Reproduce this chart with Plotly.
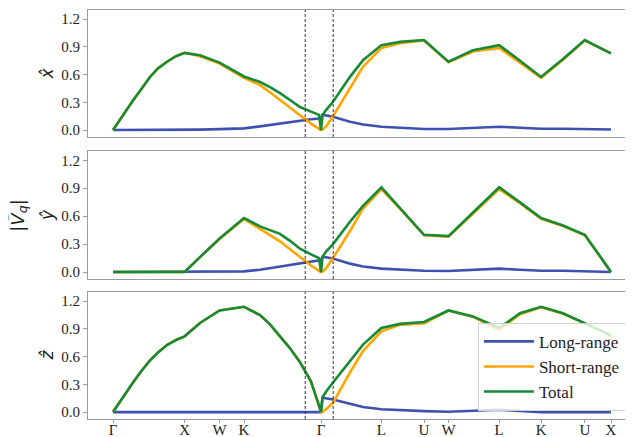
import plotly.graph_objects as go

# k-path coordinate (arbitrary units) and high-symmetry points
kpath = [0.0, 0.10, 0.20, 0.28, 0.37, 0.45, 0.54, 0.63, 0.716, 0.87, 1.066, 1.31, 1.47, 1.57,
         1.67, 1.77, 1.87, 1.98, 2.06, 2.08,
         2.095, 2.13, 2.20, 2.37, 2.50, 2.684, 2.87, 3.11, 3.355, 3.60, 3.862, 4.07, 4.281,
         4.50, 4.718, 4.85, 4.98]
tick_pos = [0.0, 0.716, 1.066, 1.31, 2.08, 2.684, 3.11, 3.355, 3.862, 4.281, 4.718, 4.98]
tick_labels = ["Γ", "X", "W", "K", "Γ", "L", "U", "W", "L", "K", "U", "X"]
dashed_x = [1.922, 2.202]

# x-hat panel
x_long = [0, 0, 0, 0, 0, 0, 0, 0.001, 0.002, 0.005, 0.01, 0.018, 0.04, 0.055,
          0.07, 0.088, 0.105, 0.118, 0.125, 0.128,
          0.165, 0.16, 0.145, 0.09, 0.06, 0.036, 0.025, 0.012, 0.011, 0.025, 0.036, 0.025, 0.014,
          0.015, 0.012, 0.01, 0.006]
x_short = [0, 0.165, 0.32, 0.44, 0.575, 0.665, 0.74, 0.80, 0.836, 0.80, 0.72, 0.565, 0.486, 0.41,
           0.33, 0.245, 0.16, 0.07, 0.012, 0.0,
           0.005, 0.04, 0.15, 0.46, 0.684, 0.89, 0.94, 0.97, 0.735, 0.85, 0.89, 0.73, 0.565,
           0.76, 0.97, 0.90, 0.83]
x_total = [0, 0.165, 0.32, 0.44, 0.575, 0.67, 0.74, 0.80, 0.836, 0.81, 0.73, 0.58, 0.52, 0.465,
           0.40, 0.325, 0.25, 0.20, 0.165, 0.0,
           0.16, 0.216, 0.306, 0.576, 0.757, 0.92, 0.955, 0.975, 0.74, 0.865, 0.92, 0.75, 0.575,
           0.77, 0.975, 0.90, 0.83]

# y-hat panel
y_long = [0, 0, 0, 0, 0, 0, 0, 0, 0, 0.001, 0.003, 0.007, 0.025, 0.042,
          0.06, 0.08, 0.10, 0.115, 0.125, 0.128,
          0.165, 0.16, 0.145, 0.09, 0.06, 0.036, 0.025, 0.014, 0.011, 0.025, 0.036, 0.025, 0.014,
          0.013, 0.01, 0.005, 0.0]
y_short = [0, 0, 0, 0, 0, 0, 0, 0, 0, 0.16, 0.355, 0.57, 0.465, 0.40,
           0.33, 0.245, 0.16, 0.07, 0.012, 0.0,
           0.005, 0.04, 0.15, 0.44, 0.68, 0.89, 0.68, 0.395, 0.38, 0.63, 0.89, 0.74, 0.57,
           0.495, 0.395, 0.20, 0.0]
y_total = [0, 0, 0, 0, 0, 0, 0, 0, 0, 0.16, 0.36, 0.58, 0.49, 0.45,
           0.41, 0.335, 0.25, 0.19, 0.15, 0.0,
           0.16, 0.22, 0.30, 0.54, 0.71, 0.91, 0.69, 0.40, 0.385, 0.64, 0.91, 0.748, 0.58,
           0.50, 0.40, 0.20, 0.0]

# z-hat panel
z_long = [0, 0, 0, 0, 0, 0, 0, 0, 0, 0, 0, 0, 0, 0,
          0, 0, 0, 0, 0, 0,
          0.155, 0.15, 0.136, 0.09, 0.055, 0.03, 0.02, 0.01, 0.003, 0.012, 0.025, 0.012, 0.0,
          0.0, 0.0, 0.0, 0.0]
z_short = [0, 0.165, 0.32, 0.44, 0.56, 0.645, 0.725, 0.78, 0.82, 0.965, 1.10, 1.14, 1.05, 0.95,
           0.82, 0.69, 0.54, 0.33, 0.07, 0.0,
           0.003, 0.03, 0.10, 0.43, 0.66, 0.875, 0.945, 0.96, 1.10, 1.03, 0.89, 1.06, 1.135,
           1.065, 0.96, 0.90, 0.82]
z_total = [0, 0.165, 0.32, 0.44, 0.56, 0.645, 0.725, 0.78, 0.82, 0.965, 1.10, 1.14, 1.05, 0.95,
           0.82, 0.69, 0.54, 0.33, 0.07, 0.0,
           0.16, 0.22, 0.32, 0.55, 0.73, 0.91, 0.955, 0.975, 1.10, 1.036, 0.91, 1.07, 1.14,
           1.07, 0.965, 0.90, 0.83]

series_names = ["Long-range", "Short-range", "Total"]
colors = ["#3F51B0", "#FFA500", "#178A35"]
panels = [
    ("y", [x_long, x_short, x_total]),
    ("y2", [y_long, y_short, y_total]),
    ("y3", [z_long, z_short, z_total]),
]
axis_titles = ["<i>x\u0302</i>", "<i>\u0177</i>", "<i>\u1E91</i>"]

fig = go.Figure()
for pi, (yref, data) in enumerate(panels):
    xref = "x" if pi == 0 else f"x{pi+1}"
    for si, vals in enumerate(data):
        fig.add_trace(go.Scatter(
            x=kpath, y=vals, mode="lines", name=series_names[si],
            line=dict(color=colors[si], width=2.6),
            xaxis=xref, yaxis=yref, showlegend=(pi == 2),
        ))

serif = "Times New Roman, Liberation Serif, Tinos, Nimbus Roman, DejaVu Serif, serif"
frame = "#9a9a9a"
domains = [[0.6895, 1.0], [0.3423, 0.6553], [0.0, 0.3105]]
xr = [-0.25, 5.20]
yr = [-0.075, 1.30]

# the page body has an 8px margin: size the figure so the plot area sits at 88..633 x 10..419
layout = dict(
    width=625, height=429,
    margin=dict(l=80, r=0, t=2, b=18),
    plot_bgcolor="white", paper_bgcolor="white",
    font=dict(family=serif, size=14, color="#222"),
    legend=dict(x=0.987, y=0.02, xanchor="right", yanchor="bottom",
                bgcolor="rgba(255,255,255,0.8)", bordercolor="#d0d0d0", borderwidth=1,
                font=dict(family=serif, size=17, color="#222"), traceorder="normal",
                tracegroupgap=0, itemwidth=50),
)
for i in range(3):
    sx = "" if i == 0 else str(i + 1)
    layout["xaxis" + sx] = dict(
        range=xr, domain=[0, 1], anchor="y" + sx, automargin=False,
        showline=True, mirror=True, linecolor=frame, linewidth=1.2,
        showgrid=False, zeroline=False,
        tickmode="array", tickvals=tick_pos, ticktext=tick_labels,
        showticklabels=(i == 2),
        ticks="outside" if i == 2 else "", ticklen=3, tickcolor=frame,
        ticklabelstandoff=-6,
        tickfont=dict(family=serif, size=15, color="#222"),
        matches=None if i == 0 else "x",
    )
    layout["yaxis" + sx] = dict(
        range=yr, domain=domains[i], anchor="x" + sx, automargin=False,
        showline=True, linecolor=frame, linewidth=1.2,
        showgrid=False, zeroline=False,
        tickmode="array", tickvals=[0.0, 0.3, 0.6, 0.9, 1.2],
        ticktext=["0.0", "0.3", "0.6", "0.9", "1.2"],
        ticks="outside", ticklen=4, tickcolor=frame,
        tickfont=dict(family=serif, size=15, color="#222"),
    )
fig.update_layout(**layout)

shapes = []
for i in range(3):
    sx = "" if i == 0 else str(i + 1)
    for dx in dashed_x:
        shapes.append(dict(type="line", xref="x" + sx, yref=f"y{sx} domain",
                           x0=dx, x1=dx, y0=0, y1=1,
                           line=dict(color="#333", width=1, dash="3px,2px")))
fig.update_layout(shapes=shapes)

annotations = []
for i in range(3):
    d = domains[i]
    annotations.append(dict(text=axis_titles[i], xref="paper", yref="paper",
                            x=0, y=(d[0] + d[1]) / 2, xanchor="center", yanchor="middle",
                            xshift=-41, textangle=-90, showarrow=False,
                            font=dict(family="DejaVu Sans", size=17, color="#222")))
annotations.append(dict(text="|<i>V\u0304</i><sub><i>q</i></sub>|", xref="paper", yref="paper",
                        x=0, y=0.497, xanchor="center", yanchor="middle",
                        xshift=-70, textangle=-90, showarrow=False,
                        font=dict(family="DejaVu Sans", size=18, color="#222")))
fig.update_layout(annotations=annotations)

fig.write_html("out.html")
